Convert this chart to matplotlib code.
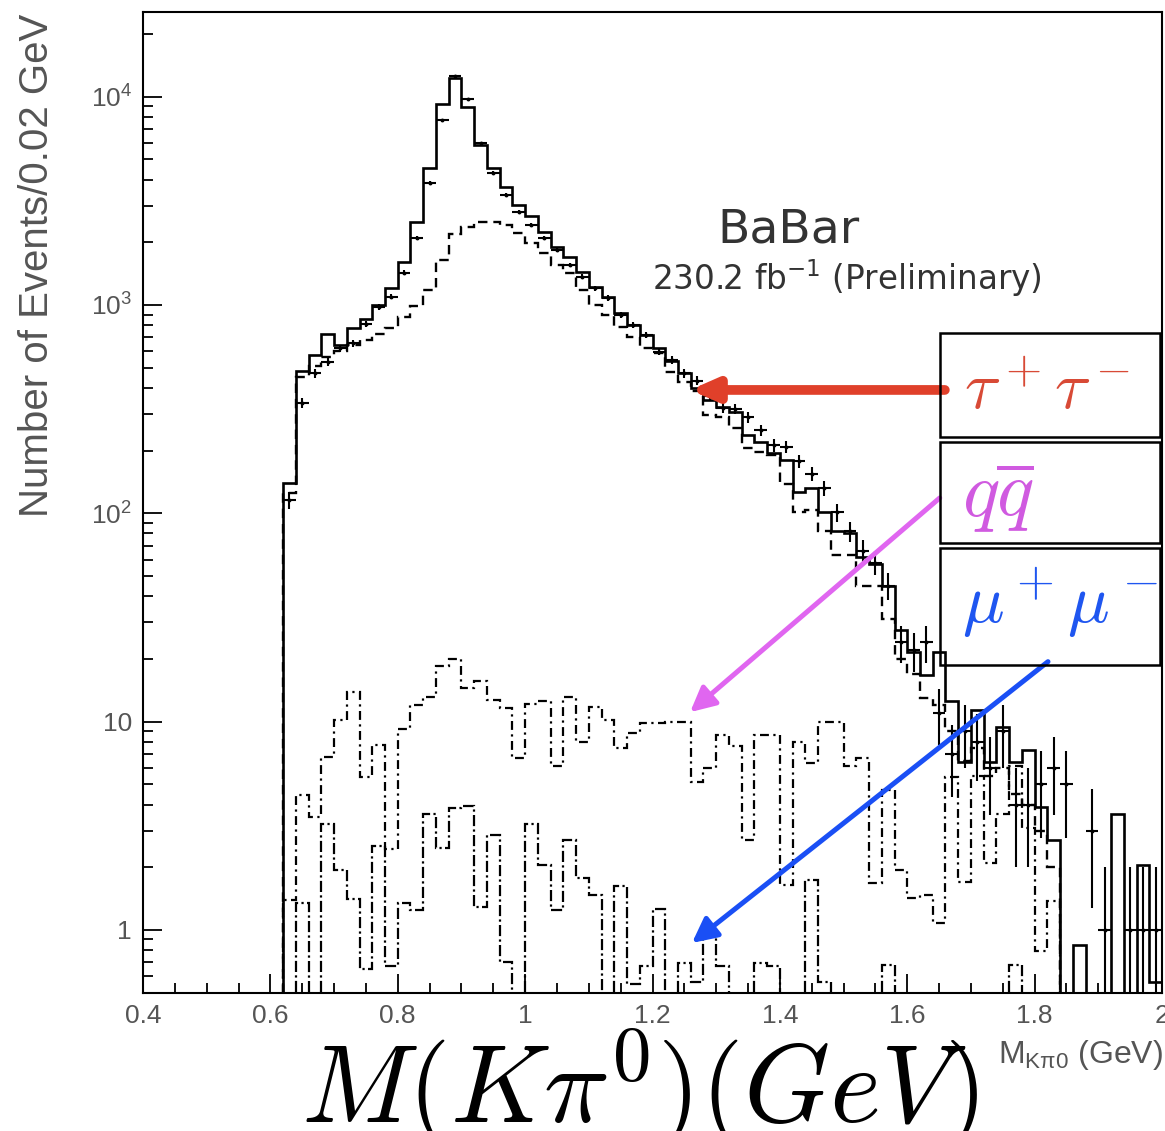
import numpy as np
import matplotlib
matplotlib.use("Agg")
import matplotlib.pyplot as plt
from matplotlib.patches import Rectangle

# K pi0 invariant mass, 0.02 GeV bins from 0.62 to 2.00 GeV
bin_lo = 0.62
bin_w = 0.02
n_bins = 69

data_counts = [116, 338, 470, 535, 620, 656, 811, 976, 1097, 1430,
               2093, 3870, 7740, 12500, 9730, 5980, 4320, 3380, 2806, 2425,
               2093, 1838, 1557, 1369, 1205, 1078, 896, 802, 718, 598,
               545, 470, 434, 365, 320, 318, 289, 251, 212, 209,
               178, 155, 132, 101, 82, 66, 58, 45, 24, 22,
               24, 11, 7, 9, 8, 6, 9, 4, 4, 5,
               6, 5, np.nan, 3, 1, np.nan, 1, 1, 1]

total_mc = [140, 484, 576, 727, 640, 774, 855, 1000, 1205, 1615,
            2512, 4540, 9230, 12270, 8970, 5870, 4540, 3700, 3025, 2680,
            2230, 1906, 1707, 1445, 1226, 1097, 915, 802, 718, 620,
            540, 470, 400, 350, 325, 307, 237, 220, 194, 180,
            126, 132, 101, 82, 80, 62, 57, 45, 27.5, 21.6,
            16.7, 21.6, 12.5, 6.4, 11.4, 6.4, 9.4, 6.4, 7.3, 3.9,
            2.7, 0, 0.85, 0, 0, 3.6, 0, 2.05, 0.56]

tau_mc = [125, 450, 510, 560, 600, 640, 680, 725, 775, 876,
          985, 1175, 1650, 2195, 2380, 2512, 2512, 2425, 2215, 1981,
          1774, 1557, 1421, 1175, 1000, 896, 787, 700, 620, 587,
          479, 428, 386, 297, 291, 256, 205, 197, 190, 139,
          101, 104, 82, 63, 63, 45, 45, 31, 20, 17,
          13, 12, 9, 6.5, 7.5, 5.5, 6, 4.5, 4, 3,
          2, 0, 0, 0, 0, 0, 0, 0, 0]

qq_mc = [1.39, 4.45, 3.5, 6.8, 10.2, 13.9, 5.4, 7.7, 2.44, 9.2,
         12.0, 13.2, 18.4, 20, 14.5, 15.7, 12.7, 11.6, 6.7, 12.1,
         12.5, 6.1, 13.2, 8.0, 11.8, 10.2, 7.5, 8.8, 9.8, 9.8,
         10, 10, 5.15, 5.97, 8.6, 7.6, 2.7, 8.6, 8.6, 1.64,
         8.0, 6.3, 10, 10, 6.1, 6.7, 1.68, 4.7, 1.94, 1.42,
         1.47, 1.08, 5.4, 1.7, 5.5, 2.1, 3.6, 6.1, 3.1, 0.79,
         1.37, 0, 0, 0, 0, 0, 0, 0, 0]

mumu_mc = [0, 1.34, 0, 3.23, 1.94, 1.40, 0.65, 2.53, 0.67, 1.35,
           1.25, 3.6, 2.47, 3.84, 3.95, 1.29, 2.86, 0.70, 0, 3.23,
           2.05, 1.25, 2.7, 1.77, 1.47, 0, 1.63, 0.55, 0.67, 1.26,
           0, 0.69, 0.56, 0.93, 0.67, 0, 0, 0.69, 0.67, 0,
           0, 1.74, 0.56, 0, 0, 0, 0, 0.68, 0, 0,
           0, 0, 0, 0, 0, 0, 0, 0.68, 0, 0,
           0, 0, 0, 0, 0, 0, 0, 0, 0]

x_ticks = [0.4, 0.6, 0.8, 1.0, 1.2, 1.4, 1.6, 1.8, 2.0]
x_labels = ["0.4", "0.6", "0.8", "1", "1.2", "1.4", "1.6", "1.8", "2"]
y_ticks = [1, 10, 100, 1000, 10000]
y_labels = ["1", "10", r"$\mathregular{10^{2}}$", r"$\mathregular{10^{3}}$",
            r"$\mathregular{10^{4}}$"]

W, H = 1165, 1131
plt.rcParams["font.family"] = ["Liberation Sans", "DejaVu Sans"]
plt.rcParams["mathtext.fontset"] = "cm"

fig = plt.figure(figsize=(W / 100, H / 100), dpi=100)
ax = fig.add_axes([143 / W, 1 - 993 / H, (1162 - 143) / W, (993 - 12) / H])
ax.set_yscale("log")

edges = np.round(bin_lo + bin_w * np.arange(n_bins + 1), 3)
centers = edges[:-1] + bin_w / 2

ax.stairs(total_mc, edges, baseline=0, color="black", lw=1.9)
ax.stairs(tau_mc, edges, baseline=0, color="black", lw=1.7,
          linestyle=(0, (4, 2.5)))
ax.stairs(qq_mc, edges, baseline=0, color="black", lw=1.6,
          linestyle=(0, (4, 2, 1, 2)))
ax.stairs(mumu_mc, edges, baseline=0, color="black", lw=1.6,
          linestyle=(0, (5, 1.5, 1, 1.5)))

data = np.array(data_counts, dtype=float)
ax.errorbar(centers, data, yerr=np.sqrt(data), xerr=bin_w / 2, fmt="none",
            ecolor="black", elinewidth=1.5, capsize=0)
ax.plot(centers, data, "o", color="black", ms=1.8)

ax.set_xlim(0.4, 2.0)
ax.set_ylim(0.498, 25500)

ax.set_xticks(x_ticks)
ax.set_xticklabels(x_labels)
ax.set_xticks(np.arange(0.4, 2.001, 0.05), minor=True)
ax.set_yticks(y_ticks)
ax.set_yticklabels(y_labels, math_fontfamily="dejavusans")
ax.tick_params(which="both", direction="in", width=1.3, colors="black",
               labelcolor="#555555", labelsize=19)
ax.tick_params(which="major", length=14)
ax.tick_params(which="minor", length=7)
ax.tick_params(axis="x", pad=8)
ax.tick_params(axis="y", pad=8)
for sp in ax.spines.values():
    sp.set_linewidth(1.5)

fig.text(37 / W, 1 - 14 / H, "Number of Events/0.02 GeV", rotation=90,
         ha="center", va="top", fontsize=29, color="#555555")
fig.text(1163 / W, 1 - 1055 / H, r"M$_{\mathregular{K\pi 0}}$ (GeV)",
         ha="right", va="center", fontsize=23, color="#555555",
         math_fontfamily="dejavusans")

# experiment label
fig.text(788 / W, 1 - 230 / H, "BaBar", ha="center", va="center",
         fontsize=34, color="#333333", family="DejaVu Sans")
fig.text(847 / W, 1 - 278 / H, r"230.2 fb$^{\mathregular{-1}}$ (Preliminary)",
         ha="center", va="center", fontsize=23.5, color="#333333",
         family="DejaVu Sans", math_fontfamily="dejavusans")

# big axis title in serif math
fig.text(640 / W, 1 - 1090 / H, r"$M(K\pi^0)(GeV)$", ha="center",
         va="center", fontsize=79, color="black")

# component key: three stacked boxes on the right
boxes = [(333, 437), (442, 543), (548, 665)]
for top, bot in boxes:
    fig.add_artist(Rectangle((940 / W, 1 - bot / H), (1160 - 940) / W,
                             (bot - top) / H, transform=fig.transFigure,
                             fill=False, ec="black", lw=1.8))

red = "#e0402a"
mag = "#e066f0"
blue = "#1a4ff5"
fig.text(964 / W, 1 - 392 / H, r"$\tau^+\tau^-$", ha="left", va="center",
         fontsize=48, color="#d84a36")
fig.text(962 / W, 1 - 497 / H, r"$q\overline{q}$", ha="left", va="center",
         fontsize=56, color="#d05ae0")
fig.text(962 / W, 1 - 603 / H, r"$\mu^+\mu^-$", ha="left", va="center",
         fontsize=50, color="#1f56f0")

ax.annotate("", xy=(1.259, 391), xytext=(1.659, 391),
            arrowprops=dict(arrowstyle="-|>,head_length=0.5,head_width=0.22",
                            color=red, lw=7, mutation_scale=30,
                            shrinkA=0, shrinkB=0))
ax.annotate("", xy=(1.259, 11.1), xytext=(1.651, 118.5),
            arrowprops=dict(arrowstyle="-|>,head_length=0.6,head_width=0.3",
                            color=mag, lw=3.6, mutation_scale=25,
                            shrinkA=0, shrinkB=0))
ax.annotate("", xy=(1.262, 0.866), xytext=(1.821, 19.4),
            arrowprops=dict(arrowstyle="-|>,head_length=0.6,head_width=0.3",
                            color=blue, lw=3.6, mutation_scale=25,
                            shrinkA=0, shrinkB=0))

fig.savefig("out.png", dpi=100)
